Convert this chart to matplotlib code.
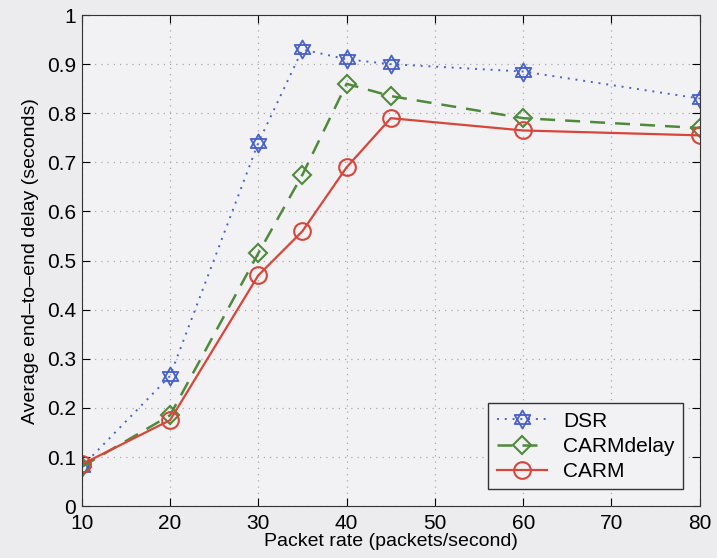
import matplotlib
matplotlib.use("Agg")
import matplotlib.pyplot as plt
from matplotlib.path import Path

# data
x = [10, 20, 30, 35, 40, 45, 60, 80]
dsr = [0.08, 0.265, 0.74, 0.93, 0.91, 0.90, 0.885, 0.83]
carm_delay = [0.08, 0.185, 0.515, 0.675, 0.86, 0.835, 0.79, 0.77]
carm = [0.085, 0.175, 0.47, 0.56, 0.69, 0.79, 0.765, 0.755]
xticks = [10, 20, 30, 40, 50, 60, 70, 80]
yticks = [0, 0.1, 0.2, 0.3, 0.4, 0.5, 0.6, 0.7, 0.8, 0.9, 1]
ylabels = ["0", "0.1", "0.2", "0.3", "0.4", "0.5", "0.6", "0.7", "0.8", "0.9", "1"]

plt.rcParams['font.family'] = ['Liberation Sans', 'DejaVu Sans']

# hexagram marker (two triangles)
up = [(0, 1), (0.866, -0.5), (-0.866, -0.5), (0, 1)]
dn = [(0, -1), (0.866, 0.5), (-0.866, 0.5), (0, -1)]
verts = up + dn
codes = [Path.MOVETO, Path.LINETO, Path.LINETO, Path.CLOSEPOLY] * 2
hexagram = Path(verts, codes)

bg = '#ececee'
fig = plt.figure(figsize=(7.17, 5.58), dpi=100, facecolor=bg)
ax = fig.add_axes([0.114, 0.093, 0.862, 0.880], facecolor='#f2f2f4')

ax.plot(x, dsr, linestyle=(0, (1, 3)), color='#4a62c8', marker=hexagram, markersize=13,
        markerfacecolor='none', markeredgewidth=1.3, linewidth=1.4, label='DSR')
ax.plot(x, carm_delay, linestyle='--', dashes=(6, 4), color='#4f8a3c', marker='D', markersize=9,
        markerfacecolor='none', markeredgewidth=1.5, linewidth=1.8, label='CARMdelay')
ax.plot(x, carm, linestyle='-', color='#d8453a', marker='o', markersize=12,
        markerfacecolor='none', markeredgewidth=1.5, linewidth=1.6, label='CARM')

ax.set_xlim(10, 80)
ax.set_ylim(0, 1)
ax.set_xticks(xticks)
ax.set_yticks(yticks)
ax.set_yticklabels(ylabels)
ax.tick_params(direction='in', top=True, right=True, labelsize=15, length=6, pad=4)
ax.tick_params(axis='x', pad=6)
ax.grid(True, linestyle=(0, (1, 4)), color='#aaaaaa', linewidth=0.9)
for s in ax.spines.values():
    s.set_color('#333333')

ax.set_xlabel("Packet rate (packets/second)", fontsize=14, labelpad=0)
ax.set_ylabel("Average end\u2013to\u2013end delay (seconds)", fontsize=14, labelpad=6)

leg = ax.legend(loc='lower right', fontsize=15, fancybox=False, framealpha=1,
                facecolor='#f2f2f4', edgecolor='#333333', handlelength=2.4,
                borderaxespad=0.8, labelspacing=0.3)

fig.savefig("out.png", dpi=100, facecolor=bg)
